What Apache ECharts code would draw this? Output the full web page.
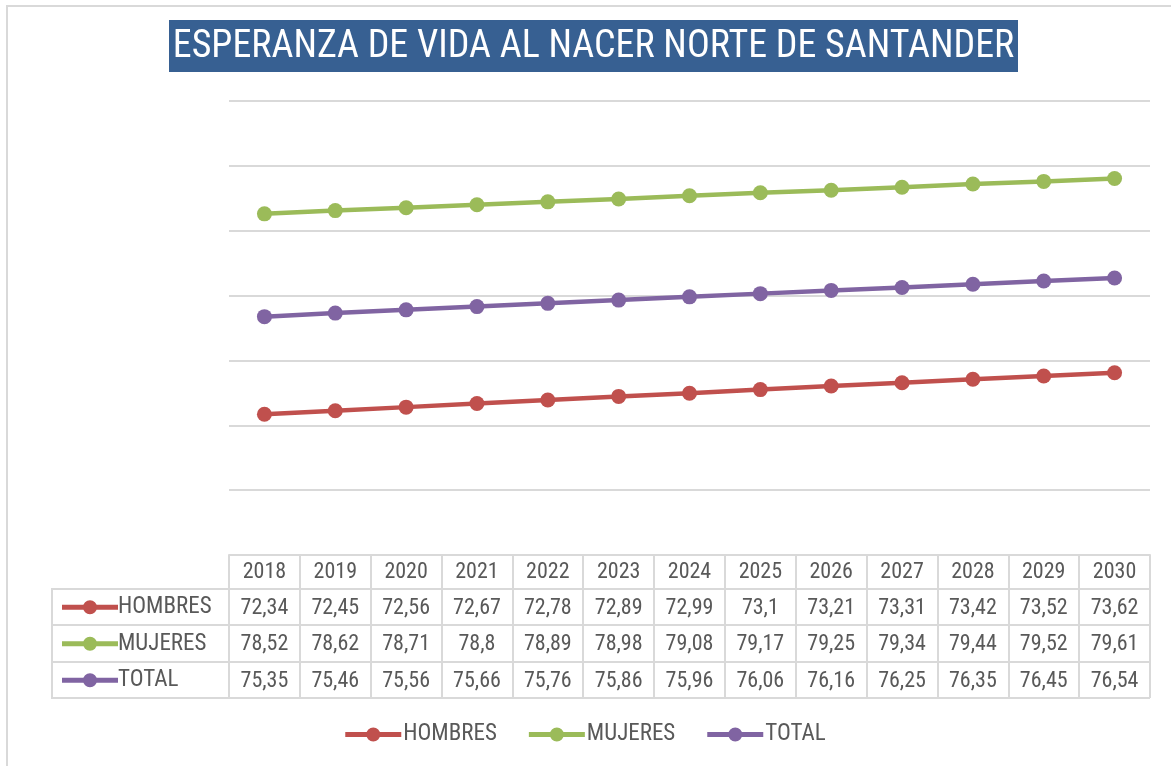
<!DOCTYPE html>
<html>
<head>
<meta charset="utf-8">
<script src="https://cdn.jsdelivr.net/npm/echarts@6/dist/echarts.min.js"></script>
<style>
  html, body { margin: 0; padding: 0; background: #fff; }
  #chart { width: 1171px; height: 766px; }
</style>
</head>
<body>
<div id="chart"></div>
<script>
const years = ["2018", "2019", "2020", "2021", "2022", "2023", "2024", "2025", "2026", "2027", "2028", "2029", "2030"];
const hombres = [72.34, 72.45, 72.56, 72.67, 72.78, 72.89, 72.99, 73.1, 73.21, 73.31, 73.42, 73.52, 73.62];
const mujeres = [78.52, 78.62, 78.71, 78.8, 78.89, 78.98, 79.08, 79.17, 79.25, 79.34, 79.44, 79.52, 79.61];
const total = [75.35, 75.46, 75.56, 75.66, 75.76, 75.86, 75.96, 76.06, 76.16, 76.25, 76.35, 76.45, 76.54];
const seriesNames = ["HOMBRES", "MUJERES", "TOTAL"];

const FONT = "'Roboto Condensed', 'Liberation Sans Narrow', sans-serif";
const TEXT = "#595959";
const BORDER = "#d9d9d9";
const colors = ["#C0504D", "#9BBB59", "#8064A2"];

// legend key: thick bar with a dot in the middle (Excel style)
const KEY_ICON = "path://M0,4.5 L56,4.5 L56,9.5 L0,9.5 Z M21,7 A7,7 0 1,1 35,7 A7,7 0 1,1 21,7 Z";

// Excel style decimal comma
const fmt = (v) => String(v).replace(".", ",");

const chart = echarts.init(document.getElementById("chart"));

// Table value rows, drawn as extra x axes under the plot
const rowAxis = (values, offset) => ({
  type: "category",
  data: years,
  position: "bottom",
  gridIndex: 0,
  offset: offset,
  axisLine: { show: false },
  axisTick: { show: false },
  splitLine: { show: false },
  axisLabel: {
    margin: 6,
    fontFamily: FONT,
    fontSize: 22,
    color: TEXT,
    formatter: (val, idx) => fmt(values[idx]),
  },
});

const tableLine = (x1, y1, x2, y2) => ({
  type: "line",
  shape: { x1, y1, x2, y2 },
  style: { stroke: BORDER, lineWidth: 2 },
  silent: true,
});

const option = {
  animation: false,
  color: colors,
  grid: { left: 229, right: 21, top: 101, bottom: 211 },
  xAxis: [
    {
      type: "category",
      data: years,
      position: "bottom",
      axisLine: { show: true, lineStyle: { color: BORDER, width: 2 } },
      axisTick: { show: true, length: 143, lineStyle: { color: BORDER, width: 2 } },
      axisLabel: { margin: 6, fontFamily: FONT, fontSize: 22, color: TEXT },
    },
    rowAxis(hombres, 36),
    rowAxis(mujeres, 72.5),
    rowAxis(total, 109.5),
  ],
  yAxis: {
    type: "value",
    min: 68,
    max: 82,
    interval: 2,
    axisLabel: { show: false },
    axisLine: { show: false },
    axisTick: { show: false },
    splitLine: { lineStyle: { color: BORDER, width: 2 } },
  },
  legend: [
    {
      data: seriesNames.map((n) => ({ name: n, icon: KEY_ICON })),
      bottom: 15,
      left: "center",
      itemWidth: 56,
      itemHeight: 14,
      itemGap: 32,
      textStyle: { fontFamily: FONT, fontSize: 23, color: TEXT, padding: [0, 0, 0, -3] },
    },
    {
      data: seriesNames.map((n) => ({ name: n, icon: KEY_ICON })),
      orient: "vertical",
      left: 57,
      top: 584,
      itemWidth: 56,
      itemHeight: 14,
      itemGap: 0,
      selectedMode: false,
      textStyle: { fontFamily: FONT, fontSize: 23, color: TEXT, lineHeight: 36.5, padding: [0, 0, 0, -5] },
    },
  ],
  graphic: [
    {
      type: "rect",
      shape: { x: 7, y: 6, width: 1200, height: 800 },
      style: { fill: "none", stroke: BORDER, lineWidth: 2 },
      silent: true,
    },
    {
      type: "rect",
      shape: { x: 169, y: 20, width: 849, height: 52 },
      style: { fill: "#376092" },
      silent: true,
    },
    {
      type: "text",
      x: 593.5,
      y: 47,
      style: {
        text: "ESPERANZA DE VIDA AL NACER NORTE DE SANTANDER",
        fill: "#fff",
        font: "38px " + FONT,
        align: "center",
        verticalAlign: "middle",
      },
      silent: true,
    },
    tableLine(52, 589, 1150, 589),
    tableLine(52, 625, 1150, 625),
    tableLine(52, 662, 1150, 662),
    tableLine(52, 698, 1150, 698),
    tableLine(52, 588, 52, 699),
  ],
  series: [hombres, mujeres, total].map((data, i) => ({
    name: seriesNames[i],
    type: "line",
    data: data,
    xAxisIndex: 0,
    symbol: "circle",
    symbolSize: 15,
    lineStyle: { width: 4.5, color: colors[i] },
    itemStyle: { color: colors[i] },
  })),
};

chart.setOption(option);
</script>
</body>
</html>
